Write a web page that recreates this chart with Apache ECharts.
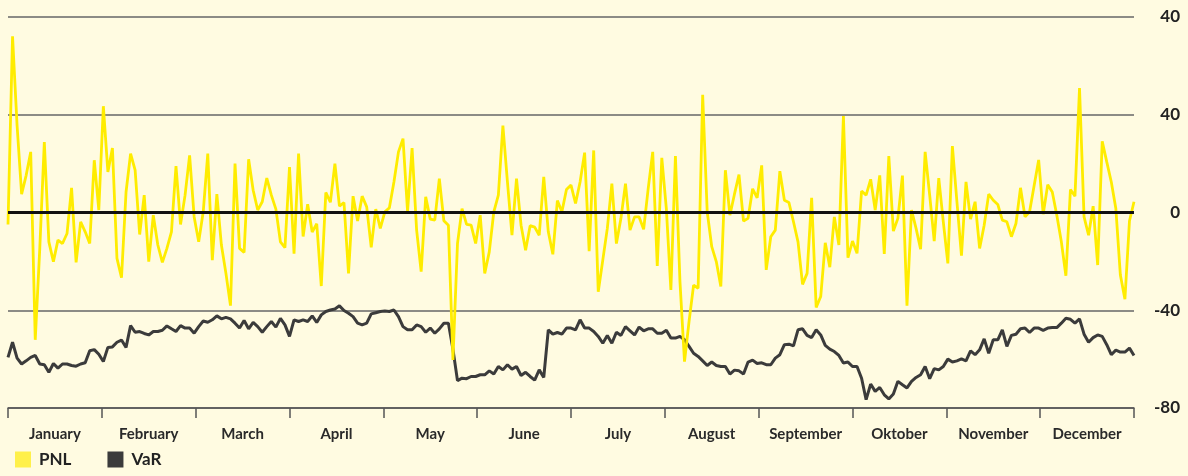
<!DOCTYPE html>
<html>
<head>
<meta charset="UTF-8">
<title>PNL vs VaR</title>
<script src="https://cdn.jsdelivr.net/npm/echarts@6/dist/echarts.min.js"></script>
<style>
  html, body { margin: 0; padding: 0; background: #fffbe1; }
  #chart { width: 1188px; height: 476px; }
</style>
</head>
<body>
<div id="chart"></div>
<script>
// months along the bottom axis
var months = ['January', 'February', 'March', 'April', 'May', 'June', 'July',
  'August', 'September', 'Oktober', 'November', 'December'];

// y tick labels, bottom to top (the top one reads 40 in the original)
var yLabels = ['-80', '-40', '0', '40', '40'];

// daily PNL
var pnl = [
  -4.9, 72.1, 35.6, 7.5, 15.2, 24.8, -52.1, -14.7, 28.8, -12.0, -20.1, -11.3, -12.7, -8.6, 10.1, -20.4, -3.8, -7.9, -12.7, 21.4,
  1.0, 43.5, 16.6, 26.4, -18.8, -26.7, 8.4, 24.1, 17.3, -9.0, 7.1, -20.1, -1.1, -13.3, -20.4, -14.7, -7.9, 19.0, -4.9, 7.1, 23.4,
  -1.8, -12.0, 0.3, 24.1, -19.5, 7.5, -13.3, -24.9, -38.1, 20.0, -14.7, -16.3, 21.8, 9.1, 1.0, 4.4, 14.1, 7.1, 1.4, -12.0,
  -14.4, 18.6, -16.9, 24.1, -9.8, 3.4, -8.0, -4.6, -30.1, 8.2, 4.2, 20.0, 2.6, 4.1, -24.9, 6.7, -3.5, 6.7, 2.3, -14.3, 1.4, -6.5,
  0.3, 1.9, 12.5, 24.8, 30.2, 0.5, 26.4, -7.2, -24.2, 6.4, -2.7, -3.1, 13.9, -3.4, -5.2, -60.3, -12.7, 1.6, -4.9, -5.2, -12.7,
  -1.1, -24.9, -16.1, 0.3, 7.1, 35.6, 12.5, -9.3, 13.9, -5.2, -15.4, -5.4, -6.0, -9.3, 14.6, -7.9, -17.1, 4.9, 0.3, 9.4, 11.2, 3.7,
  12.5, 24.5, -15.8, 25.4, -32.4, -19.5, -6.5, 11.8, -12.7, -2.4, 11.8, -7.2, -1.8, -1.8, -6.9, 9.8, 24.8, -21.9, 22.4, 1.6,
  -31.7, 23.1, -28.3, -61.0, -44.6, -29.7, -31.0, 48.2, 0.3, -14.0, -20.1, -30.3, 17.3, -1.1, 7.5, 15.5, -3.5, -2.4, 9.7, 6.0, 19.3, -23.5,
  -9.9, -7.2, 16.9, 5.0, 4.1, -3.8, -12.0, -29.4, -24.9, 6.0, -38.9, -34.4, -12.4, -22.4, -1.8, -13.3, 39.5, -18.5, -11.7, -16.7,
  8.8, 7.1, 13.6, 1.0, 15.2, -17.0, 23.1, -7.6, -2.4, 15.1, -38.1, 1.0, -6.5, -15.0, 24.8, 7.1, -11.7, 14.1, -3.8, -20.8, 27.2,
  4.4, -17.7, 12.5, -2.7, 4.4, -14.7, -5.2, 7.5, 5.0, 3.3, -3.1, -3.8, -9.9, -4.5, 10.1, -1.8, 0.3, 10.9, 21.5, -0.7,
  11.4, 8.4, -1.1, -12.0, -25.9, 9.4, 6.7, 50.9, -1.8, -9.3, 2.6, -21.5, 29.1, 20.7, 12.5, 1.6, -25.6, -35.5, -3.5, 4.4
];

// daily VaR
var varValues = [
  -59.3, -53.1, -59.6, -62.0, -60.7, -59.3, -58.5, -62.0, -62.3, -65.4, -61.8, -63.7, -62.0, -62.0, -62.6, -62.9, -62.0, -61.5, -56.6, -56.1,
  -58.0, -61.0, -55.2, -55.0, -53.1, -52.2, -55.2, -46.3, -49.0, -48.7, -49.5, -50.1, -48.7, -48.7, -48.2, -46.4, -47.6, -48.7, -46.3, -47.3, -47.3,
  -49.4, -46.7, -44.4, -44.9, -43.9, -42.3, -43.5, -42.9, -43.5, -45.3, -47.3, -44.2, -47.6, -45.0, -46.7, -49.0, -46.7, -44.6, -46.9, -43.3,
  -46.0, -50.7, -43.9, -44.6, -43.9, -44.6, -42.3, -45.0, -41.9, -40.5, -39.9, -39.5, -38.2, -40.1, -41.2, -42.6, -45.3, -46.0, -45.3, -41.5, -41.0, -40.5,
  -40.3, -40.5, -39.9, -42.6, -46.7, -48.0, -48.0, -46.0, -46.7, -49.0, -47.3, -49.4, -47.6, -45.3, -45.3, -56.0, -68.8, -67.8, -68.0, -67.1, -67.1,
  -66.4, -66.4, -64.8, -66.1, -63.0, -64.4, -62.3, -64.1, -63.0, -66.7, -65.4, -67.1, -68.6, -64.4, -67.5, -48.0, -49.8, -49.1, -49.8, -47.3, -47.3, -48.0,
  -43.9, -47.3, -47.3, -48.7, -50.7, -53.5, -50.3, -53.5, -49.0, -50.3, -46.7, -48.4, -50.1, -46.9, -48.4, -47.6, -47.6, -49.4, -49.4, -48.2,
  -51.4, -51.4, -50.7, -52.1, -54.8, -57.6, -58.9, -60.7, -62.6, -61.2, -62.6, -63.0, -63.0, -66.1, -64.5, -64.8, -66.1, -61.2, -60.4, -61.8, -61.5, -62.3,
  -62.3, -59.6, -58.2, -54.1, -53.9, -54.6, -48.0, -47.6, -50.3, -51.2, -48.0, -50.1, -54.4, -55.9, -56.9, -58.5, -61.6, -61.2, -63.0, -63.0,
  -67.8, -76.6, -70.2, -73.2, -71.6, -74.6, -76.3, -74.3, -69.1, -70.5, -71.8, -69.1, -67.5, -66.4, -63.0, -68.0, -63.9, -64.4, -63.0, -60.0, -61.2,
  -60.7, -59.9, -60.7, -56.6, -58.2, -56.2, -51.7, -57.6, -52.1, -52.1, -48.0, -54.8, -50.3, -49.8, -47.6, -47.3, -49.1, -47.3, -47.3, -48.2,
  -47.3, -47.1, -47.1, -45.3, -43.3, -43.7, -45.3, -43.5, -49.8, -53.1, -51.2, -50.1, -50.7, -54.1, -58.2, -56.3, -57.1, -57.1, -55.5, -58.5
];

var days = pnl.map(function(v, i) { return i; });

var chart = echarts.init(document.getElementById('chart'));
var textFont = 'Lato, "Open Sans", sans-serif';

var option = {
  backgroundColor: '#fffbe1',
  animation: false,
  grid: { left: 8, right: 54, top: 17, bottom: 68 },
  legend: {
    left: 10,
    bottom: 3,
    icon: 'rect',
    itemWidth: 16,
    itemHeight: 16,
    itemGap: 36,
    textStyle: { fontFamily: textFont, fontSize: 17, fontWeight: 'bold', color: '#222', padding: [0, 0, 0, 3] },
    data: [
      { name: 'PNL', itemStyle: { color: '#fff04a' } },
      { name: 'VaR', itemStyle: { color: '#3b3b3b' } }
    ]
  },
  xAxis: [{
    type: 'category',
    data: months,
    boundaryGap: true,
    axisLine: { onZero: false, lineStyle: { color: '#555', width: 1.5 } },
    axisTick: { show: true, interval: 0, length: 10, lineStyle: { color: '#555', width: 1.5 } },
    axisLabel: { interval: 0, margin: 19, fontFamily: textFont, fontSize: 15, fontWeight: 'bold', color: '#2a2a2a' },
    splitLine: { show: false }
  }, {
    type: 'category',
    data: days,
    boundaryGap: false,
    show: false
  }],
  yAxis: {
    type: 'value',
    position: 'right',
    min: -80,
    max: 80,
    interval: 40,
    axisLine: { show: false },
    axisTick: { show: false },
    axisLabel: {
      margin: 46,
      align: 'right',
      fontFamily: textFont,
      fontSize: 17,
      fontWeight: 'bold',
      color: '#222',
      formatter: function(v) { return yLabels[(v + 80) / 40]; }
    },
    splitLine: { lineStyle: { color: '#666', width: 1.5 } }
  },
  series: [{
    name: 'VaR',
    type: 'line',
    xAxisIndex: 1,
    data: varValues,
    symbol: 'none',
    z: 2,
    lineStyle: { color: '#3b3b3b', width: 3 },
    itemStyle: { color: '#3b3b3b' }
  }, {
    name: 'PNL',
    type: 'line',
    xAxisIndex: 1,
    data: pnl,
    symbol: 'none',
    z: 3,
    lineStyle: { color: '#ffec00', width: 2.8 },
    itemStyle: { color: '#ffec00' },
    markLine: {
      silent: true,
      symbol: 'none',
      label: { show: false },
      lineStyle: { color: '#111', width: 3, type: 'solid' },
      data: [{ yAxis: 0 }]
    }
  }]
};

chart.setOption(option);
</script>
</body>
</html>
